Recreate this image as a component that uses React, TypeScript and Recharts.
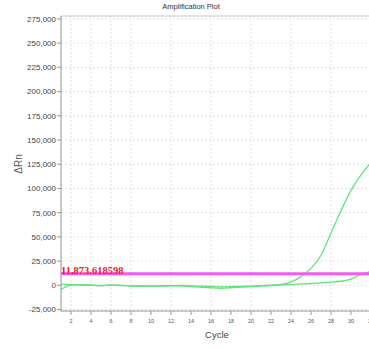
import React from 'react';
import {
  LineChart,
  Line,
  XAxis,
  YAxis,
  CartesianGrid,
  ReferenceLine,
  Customized,
} from 'recharts';

// Amplification cycles and ΔRn readings for the two wells
const cycles = [
  1, 2, 3, 4, 5, 6, 7, 8, 9, 10, 11, 12, 13, 14, 15, 16,
  17, 18, 19, 20, 21, 22, 23, 24, 25, 26, 27, 28, 29, 30, 31, 32,
];
const wellEarly = [
  1300, 800, 600, 200, -200, 300, 0, -700, -500, -900, -300, -600, -100, -700, -900, -1200,
  -1500, -1300, -1000, -800, -300, 300, 1000, 3500, 9000, 17500, 31000, 54000, 77000, 98000, 114000, 127000,
];
const wellLate = [
  -4200, 300, 500, 0, -300, 200, -200, -600, -1000, -700, -800, -400, -800, -1200, -2000, -2600,
  -3000, -2500, -1800, -1300, -800, -300, 500, 900, 1400, 1900, 2600, 3300, 4200, 6500, 11200, 14500,
];

const threshold = 11873.618598;
const thresholdLabel = '11,873.618598';

const yTicks = [-25000, 0, 25000, 50000, 75000, 100000, 125000, 150000, 175000, 200000, 225000, 250000, 275000];
const xTicks = [2, 4, 6, 8, 10, 12, 14, 16, 18, 20, 22, 24, 26, 28, 30, 32];

const Y_DOMAIN: [number, number] = [-26500, 278000];
const X_DOMAIN: [number, number] = [1, 32.2];

const data = cycles.map((c, i) => ({ cycle: c, early: wellEarly[i], late: wellLate[i] }));

const fmt = (v: number) => v.toLocaleString('en-US');

const SANS = 'Liberation Sans, Arial, sans-serif';

const Titles = () => (
  <g>
    <text x={191} y={9} textAnchor="middle" fontSize={7.5} fontFamily={SANS} fill="#333">
      Amplification Plot
    </text>
    <text x={217} y={338} textAnchor="middle" fontSize={9.5} fontFamily={SANS} fill="#444">
      Cycle
    </text>
    <text
      x={22}
      y={164}
      textAnchor="middle"
      fontSize={10}
      fontFamily={SANS}
      fill="#555"
      transform="rotate(-90 22 164)"
    >
      ΔRn
    </text>
  </g>
);

export default function App() {
  return (
    <div
      style={{
        position: 'absolute',
        left: 0,
        top: 0,
        width: 369,
        height: 349,
        overflow: 'hidden',
        background: '#fff',
      }}
    >
      <LineChart
        width={375}
        height={349}
        data={data}
        margin={{ top: 16, right: 2, bottom: 0, left: 0 }}
      >
        <CartesianGrid stroke="#e0e0e0" strokeDasharray="2 2" />
        <ReferenceLine y={Y_DOMAIN[1]} stroke="#d0d0d0" strokeWidth={1} />
        <XAxis
          dataKey="cycle"
          type="number"
          domain={X_DOMAIN}
          ticks={xTicks}
          allowDataOverflow
          tickSize={4}
          tickMargin={4}
          tick={{ fontSize: 5.5, fill: '#555', fontFamily: SANS }}
          stroke="#999"
          height={38}
        />
        <YAxis
          type="number"
          domain={Y_DOMAIN}
          ticks={yTicks}
          allowDataOverflow
          tickFormatter={fmt}
          width={61}
          tickSize={4}
          tickMargin={1}
          tick={{ fontSize: 8, fill: '#444', fontFamily: SANS }}
          stroke="#999"
        />
        <Line
          type="monotone"
          dataKey="late"
          stroke="#62e27c"
          strokeWidth={1.3}
          dot={false}
          isAnimationActive={false}
        />
        <Line
          type="monotone"
          dataKey="early"
          stroke="#62e27c"
          strokeWidth={1.3}
          dot={false}
          isAnimationActive={false}
        />
        <ReferenceLine
          y={threshold}
          stroke="#f45cf0"
          strokeWidth={3}
          label={{
            value: thresholdLabel,
            position: 'insideBottomLeft',
            offset: 0,
            fill: '#f01818',
            fontSize: 10.5,
            fontWeight: 'bold',
            fontFamily: 'Liberation Serif, Times New Roman, serif',
          }}
        />
        <Customized component={Titles} />
      </LineChart>
    </div>
  );
}
